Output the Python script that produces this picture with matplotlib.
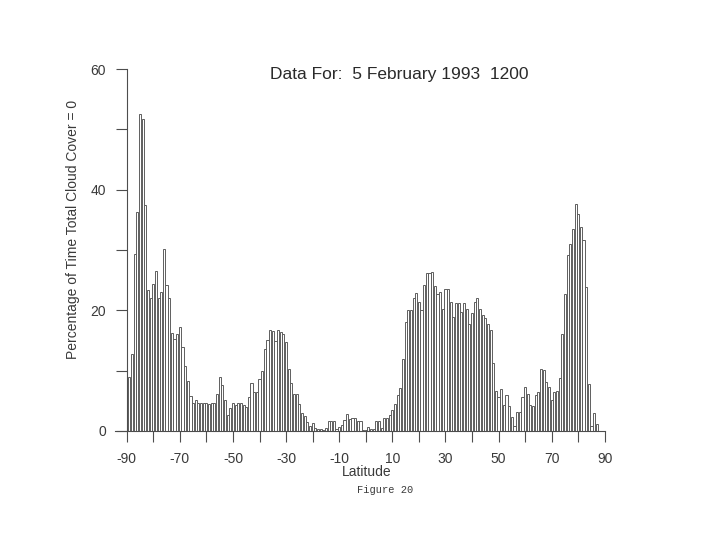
import numpy as np
import matplotlib
matplotlib.use("Agg")
import matplotlib.pyplot as plt

# latitude bins, 1 degree each, -89 .. 87
latitudes = list(range(-89, 88))

# percentage of time total cloud cover = 0
pct_south = [9.0, 12.7, 29.4, 36.3, 52.6, 51.8, 37.4, 23.3, 22.0, 24.3,   # -89..-80
             26.6, 22.0, 23.1, 30.2, 24.2, 22.0, 16.2, 15.3, 16.0, 17.2,  # -79..-70
             13.9, 10.8, 8.3, 5.8, 4.7, 5.1, 4.6, 4.6, 4.6, 4.7,          # -69..-60
             4.5, 4.7, 4.7, 6.2, 8.9, 7.6, 5.1, 2.7, 3.8, 4.7,            # -59..-50
             4.3, 4.7, 4.7, 4.3, 4.0, 5.7, 8.0, 6.5, 6.5, 8.6,            # -49..-40
             10.0, 13.6, 15.1, 16.8, 16.6, 15.0, 16.8, 16.4, 16.0, 14.7,  # -39..-30
             10.3, 8.0, 6.2, 6.2, 4.4, 2.9, 2.5, 1.5, 0.8, 1.4,           # -29..-20
             0.5, 0.3, 0.3, 0.1, 0.5, 1.6, 1.6, 1.6, 0.3, 0.6,            # -19..-10
             1.0, 1.8, 2.8, 2.0, 2.2, 2.2, 1.6, 1.6, 0.2]                 # -9..-1
pct_north = [0.2, 0.6, 0.4, 0.3, 1.7, 1.7, 0.5, 2.1, 2.1, 2.7,            # 0..9
             3.5, 4.5, 6.0, 7.2, 12.0, 18.0, 20.0, 20.0, 22.0, 22.8,      # 10..19
             21.4, 20.1, 24.2, 26.2, 26.2, 26.3, 24.1, 22.7, 23.1, 20.3,  # 20..29
             23.6, 23.6, 21.4, 18.9, 21.2, 21.2, 19.8, 21.2, 20.3, 17.8,  # 30..39
             19.5, 21.4, 22.0, 20.3, 19.2, 18.7, 17.8, 16.7, 11.2, 6.7,   # 40..49
             5.6, 7.0, 4.3, 5.9, 4.2, 2.3, 0.8, 3.1, 3.2, 5.6,            # 50..59
             7.3, 6.2, 4.3, 4.1, 5.9, 6.4, 10.2, 10.1, 8.2, 7.3,          # 60..69
             5.2, 6.4, 6.7, 8.8, 16.1, 22.7, 29.2, 31.0, 33.5, 37.7,      # 70..79
             35.9, 33.9, 31.7, 23.8, 7.8, 0.8, 3.0, 1.2]                  # 80..87
pct_clear = pct_south + pct_north

x_ticks = list(range(-90, 91, 10))
x_labels = [str(v) if (v + 90) % 20 == 0 else "" for v in x_ticks]
y_ticks = [0, 10, 20, 30, 40, 50, 60]
y_labels = ["0", "", "20", "", "40", "", "60"]

ink = "#4d4d4d"
txt = "#3a3a3a"
plt.rcParams["font.family"] = ["Liberation Sans", "DejaVu Sans"]

fig = plt.figure(figsize=(7.2, 5.4), dpi=100)
ax = fig.add_axes([0.176, 0.2019, 0.664, 0.670])

ax.bar(latitudes, pct_clear, width=0.8, facecolor="none",
       edgecolor="#5e5e5e", linewidth=0.7)

ax.set_xlim(-90, 90)
ax.set_ylim(0, 60)
for s in ["top", "right"]:
    ax.spines[s].set_visible(False)
ax.spines["left"].set_color(ink)
ax.spines["bottom"].set_color(ink)
ax.spines["left"].set_linewidth(0.8)
ax.spines["bottom"].set_linewidth(0.8)
ax.spines["bottom"].set_bounds(-94.5, 90)

ax.set_xticks(x_ticks)
ax.set_xticklabels(x_labels)
ax.set_yticks(y_ticks)
ax.set_yticklabels(y_labels)
ax.tick_params(axis="x", direction="out", length=8, width=0.8, color=ink,
               labelcolor=txt, labelsize=10, pad=7)
ax.tick_params(axis="y", direction="out", length=8, width=0.8, color=ink,
               labelcolor=txt, labelsize=10, pad=7)

fig.text(0.555, 0.862, "Data For:  5 February 1993  1200", ha="center",
         va="center", fontsize=12.5, color="#2a2a2a")
fig.text(0.101, 0.575, "Percentage of Time Total Cloud Cover = 0",
         rotation=90, ha="center", va="center", fontsize=10, color=txt)
fig.text(0.509, 0.126, "Latitude", ha="center", va="center", fontsize=10,
         color=txt)
fig.text(0.535, 0.093, "Figure 20", ha="center", va="center", fontsize=7.5,
         color=txt, family="Liberation Mono")

fig.savefig("out.png", dpi=100, facecolor="white")
